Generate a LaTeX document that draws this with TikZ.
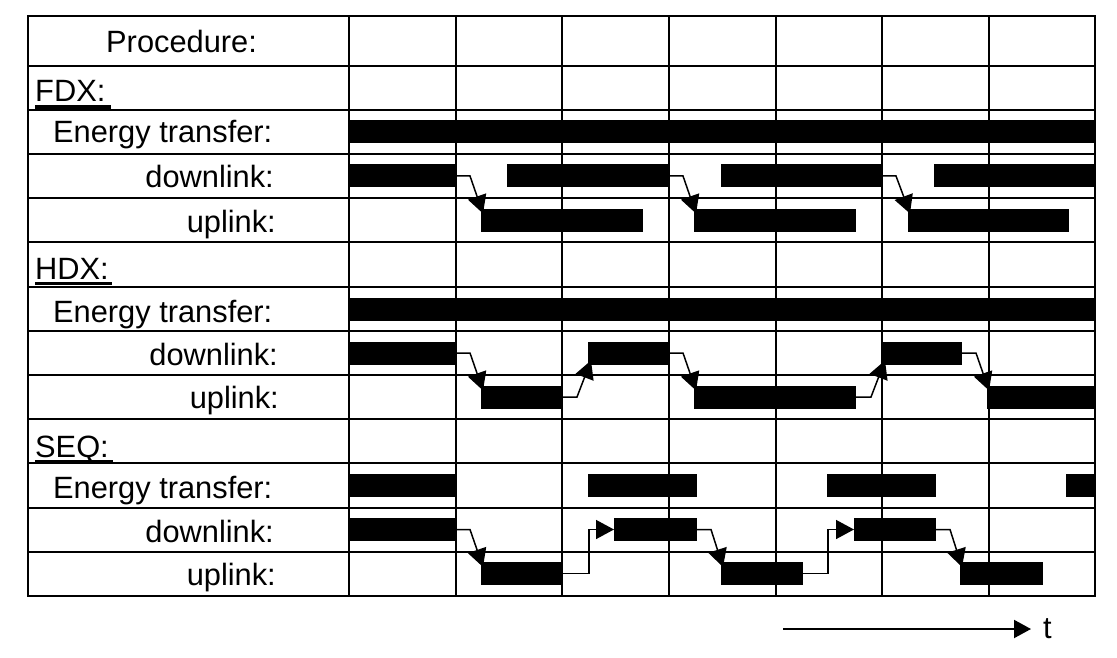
\documentclass[tikz,border=0pt]{standalone}
\usepackage{fontspec}
\setmainfont{Liberation Sans}
\usetikzlibrary{arrows.meta}
\newcommand\tbar[4]{\node[tbarsty, minimum width={(#3)-(#2)}, anchor=west] (#1) at (#2,#4) {};}
\newcommand\dconn[2]{\draw[conn] (#1.east) -- ++(14,0) -- ([xshift=2pt,yshift=-5pt]#2.north west);}
\newcommand\uconn[2]{\draw[conn] (#1.east) -- ++(15,0) -- ([xshift=3pt,yshift=4pt]#2.south west);}
\newcommand\oconn[3]{\draw[conn] (#1.east) -- ++(#3,0) |- (#2.west);}
\begin{document}
\begin{tikzpicture}[x=1pt,y=-1pt,
  grid/.style={line width=2.4pt},
  tbarsty/.style={fill=black, draw=none, inner sep=0pt, outer sep=0pt, minimum height=23pt},
  conn/.style={line width=1.5pt, -{Triangle[length=18pt,width=19pt]}},
  lbl/.style={inner sep=0pt, font=\fontsize{30.8}{36}\selectfont},
  uline/.style={line width=3.5pt},
  tarrow/.style={line width=2pt, -{Triangle[length=17pt,width=18pt]}}]
\useasboundingbox (0,0) rectangle (1117,658);
% grid
\draw[grid] (28,16) rectangle (1095,596);
\foreach \y in {66,110,154,198,242,287,331,375,419,463,508,552}
  \draw[grid] (28,\y) -- (1095,\y);
\foreach \x in {349,456,562,669,776,882,989}
  \draw[grid] (\x,16) -- (\x,596);
% labels
\node[lbl, anchor=base west] (proc) at (106,53) {Procedure:};
\node[lbl, anchor=base west] (fdx) at (35,102) {FDX:};
\node[lbl, anchor=base west] (e1) at (53,143) {Energy transfer:};
\node[lbl, anchor=base east] (d1) at (274,187) {downlink:};
\node[lbl, anchor=base east] (u1) at (276,232) {uplink:};
\node[lbl, anchor=base west] (hdx) at (35,279) {HDX:};
\node[lbl, anchor=base west] (e2) at (53,322) {Energy transfer:};
\node[lbl, anchor=base east] (d2) at (278,365) {downlink:};
\node[lbl, anchor=base east] (u2) at (279,408) {uplink:};
\node[lbl, anchor=base west] (seq) at (35,457) {SEQ:};
\node[lbl, anchor=base west] (e3) at (53,498) {Energy transfer:};
\node[lbl, anchor=base east] (d3) at (274,542) {downlink:};
\node[lbl, anchor=base east] (u3) at (276,585) {uplink:};
\draw[uline] ([yshift=-5pt]fdx.base west) -- ++(76,0);
\draw[uline] ([yshift=-4.5pt]hdx.base west) -- ++(77,0);
\draw[uline] ([yshift=-5pt]seq.base west) -- ++(78,0);
% FDX bars
\tbar{fe}{348}{1095}{132}
\tbar{fd1}{348}{456}{176}
\tbar{fd2}{507}{669}{176}
\tbar{fd3}{721}{882}{176}
\tbar{fd4}{934}{1095}{176}
\tbar{fu1}{481}{643}{220}
\tbar{fu2}{694}{856}{220}
\tbar{fu3}{908}{1069}{220}
\dconn{fd1}{fu1}
\dconn{fd2}{fu2}
\dconn{fd3}{fu3}
% HDX bars
\tbar{he}{348}{1095}{309}
\tbar{hd1}{348}{456}{353}
\tbar{hd2}{588}{669}{353}
\tbar{hd3}{882}{962}{353}
\tbar{hu1}{481}{562}{397}
\tbar{hu2}{694}{856}{397}
\tbar{hu3}{987}{1095}{397}
\dconn{hd1}{hu1}
\uconn{hu1}{hd2}
\dconn{hd2}{hu2}
\uconn{hu2}{hd3}
\dconn{hd3}{hu3}
% SEQ bars
\tbar{se1}{348}{456}{485.5}
\tbar{se2}{588}{697}{485.5}
\tbar{se3}{827}{936}{485.5}
\tbar{se4}{1066}{1095}{485.5}
\tbar{sd1}{348}{456}{529.5}
\tbar{sd2}{614}{697}{529.5}
\tbar{sd3}{854}{936}{529.5}
\tbar{su1}{481}{562}{573.5}
\tbar{su2}{721}{803}{573.5}
\tbar{su3}{960}{1043}{573.5}
\dconn{sd1}{su1}
\oconn{su1}{sd2}{27}
\dconn{sd2}{su2}
\oconn{su2}{sd3}{25}
\dconn{sd3}{su3}
% time axis
\coordinate (t0) at (783,629);
\coordinate (t1) at (1031,629);
\node[lbl, anchor=base west] (t) at (1043,638) {t};
\draw[tarrow] (t0) -- (t1);
\end{tikzpicture}
\end{document}
